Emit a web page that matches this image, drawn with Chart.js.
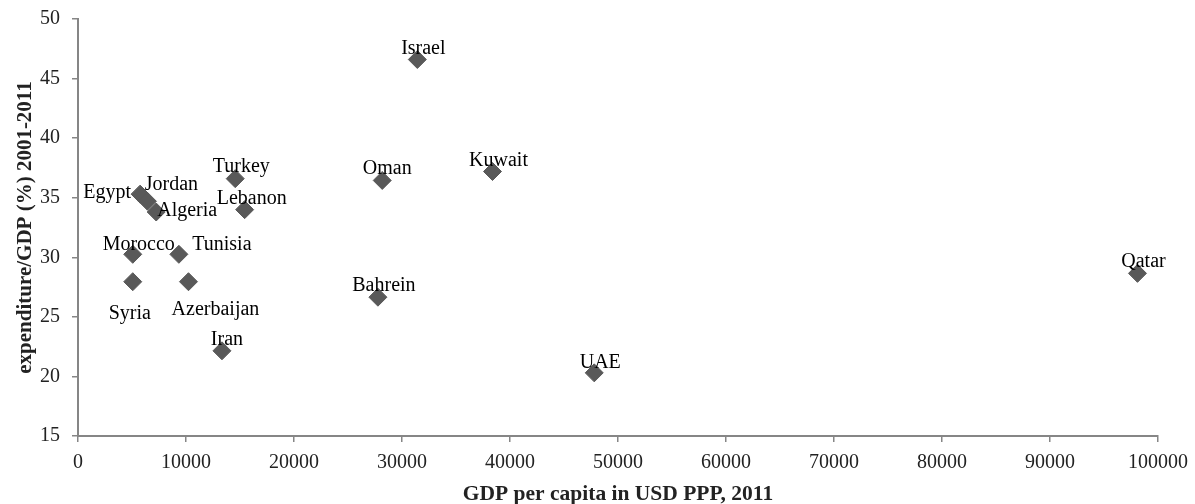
<!DOCTYPE html>
<html>
<head>
<meta charset="utf-8">
<script src="https://cdn.jsdelivr.net/npm/chart.js@4.4.1/dist/chart.umd.min.js"></script>
<style>
  html, body { margin: 0; padding: 0; background: #fff; }
  #wrap { width: 1195px; height: 504px; }
</style>
</head>
<body>
<div id="wrap"><canvas id="scatter"></canvas></div>
<script>
// Countries, GDP per capita (USD PPP, 2011) and expenditure/GDP (%) 2001-2011
const countries = ["Egypt", "Jordan", "Algeria", "Turkey", "Lebanon", "Morocco", "Tunisia", "Syria",
  "Azerbaijan", "Iran", "Israel", "Oman", "Kuwait", "Bahrein", "UAE", "Qatar"];
const gdpPerCapita = [5750, 6430, 7240, 14560, 15430, 5070, 9340, 5070,
  10230, 13330, 31420, 28170, 38380, 27770, 47800, 98100];
const expenditureShare = [35.3, 34.7, 33.8, 36.6, 34.0, 30.25, 30.25, 27.95,
  27.95, 22.15, 46.6, 36.45, 37.2, 26.65, 20.3, 28.65];

const xTitle = "GDP per capita in USD PPP, 2011";
const yTitle = "expenditure/GDP (%) 2001-2011";

// where each data label sits relative to its marker (px)
const labelShift = {
  Egypt: [-33, -1], Jordan: [24, -17], Algeria: [31, -1], Turkey: [6, -12],
  Lebanon: [7, -11], Morocco: [6, -10], Tunisia: [43, -10], Syria: [-3, 32],
  Azerbaijan: [27, 28], Iran: [5, -11], Israel: [6, -11], Oman: [5, -12],
  Kuwait: [6, -11], Bahrein: [6, -11], UAE: [6, -10], Qatar: [6, -12]
};

const serif = "'Liberation Serif', 'Times New Roman', serif";
const axisGrey = "#868686";

// draws the country names next to the diamonds
const pointLabels = {
  id: "pointLabels",
  afterDatasetsDraw(chart) {
    const ctx = chart.ctx;
    const meta = chart.getDatasetMeta(0);
    ctx.save();
    ctx.font = "20px " + serif;
    ctx.fillStyle = "#000";
    ctx.textAlign = "center";
    ctx.textBaseline = "middle";
    meta.data.forEach((pt, i) => {
      const name = countries[i];
      const s = labelShift[name] || [0, -12];
      ctx.fillText(name, pt.x + s[0], pt.y + s[1]);
    });
    ctx.restore();
  }
};

const points = gdpPerCapita.map((g, i) => ({ x: g, y: expenditureShare[i] }));

new Chart(document.getElementById("scatter"), {
  type: "scatter",
  data: {
    datasets: [{
      label: "countries",
      data: points,
      pointStyle: "rectRot",
      pointRadius: 9,
      backgroundColor: "#595959",
      borderColor: "#595959",
      borderWidth: 1
    }]
  },
  options: {
    responsive: true,
    maintainAspectRatio: false,
    animation: false,
    layout: { padding: { top: 19, right: 37, left: 13, bottom: 0 } },
    plugins: {
      legend: { display: false },
      tooltip: { enabled: false }
    },
    scales: {
      x: {
        type: "linear",
        min: 0,
        max: 100000,
        afterFit(scale) {
          scale.height = 68;
          scale.paddingLeft = 0;
          scale.paddingRight = 0;
        },
        border: { color: axisGrey, width: 2 },
        grid: { drawOnChartArea: false, color: axisGrey, tickLength: 6, lineWidth: 1.5 },
        ticks: {
          stepSize: 10000,
          color: "#222",
          padding: 9,
          maxRotation: 0,
          callback: v => String(v),
          font: { family: serif, size: 20 }
        },
        title: {
          display: true,
          text: xTitle,
          color: "#222",
          padding: { top: 0, bottom: -3 },
          font: { family: serif, size: 21.5, weight: "bold" }
        }
      },
      y: {
        min: 15,
        max: 50,
        afterFit(scale) {
          scale.width = 65;
          scale.paddingTop = 0;
          scale.paddingBottom = 0;
        },
        border: { color: axisGrey, width: 2 },
        grid: { drawOnChartArea: false, color: axisGrey, tickLength: 6, lineWidth: 1.5 },
        ticks: {
          stepSize: 5,
          color: "#222",
          padding: 12,
          callback: v => String(v),
          font: { family: serif, size: 20 }
        },
        title: {
          display: true,
          text: yTitle,
          color: "#222",
          padding: { top: 0, bottom: 0 },
          font: { family: serif, size: 21, weight: "bold" }
        }
      }
    }
  },
  plugins: [pointLabels]
});
</script>
</body>
</html>
